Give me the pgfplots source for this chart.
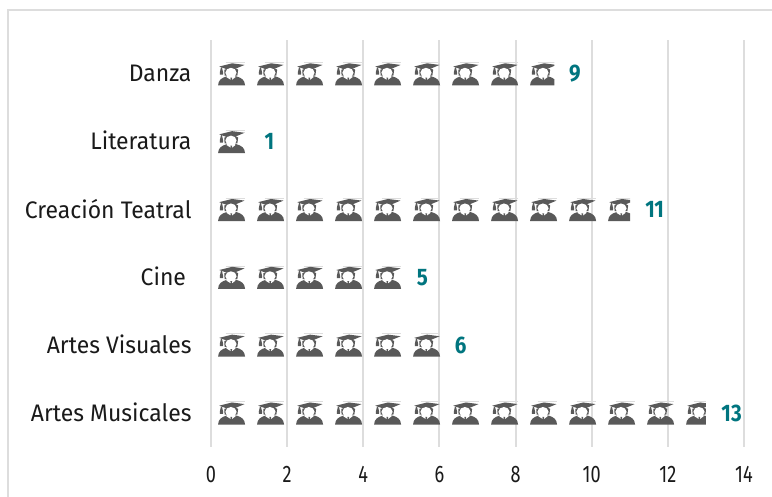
\documentclass[border=0pt]{standalone}
\usepackage{fontspec}
\setmainfont{Fira Sans}
\newfontfamily\lblfont[FakeStretch=0.96]{Fira Sans}
\newfontfamily\numfont[FakeStretch=0.76]{Fira Sans}
\newfontfamily\valfont[FakeStretch=0.86]{Fira Sans Bold}
\usepackage{pgfplots}
\pgfplotsset{compat=1.18}
\definecolor{gridc}{HTML}{DDDDDD}
\definecolor{iconc}{HTML}{595959}
\definecolor{tealc}{HTML}{00757F}
\definecolor{txt}{HTML}{1A1A1A}
% icon, centred, 1 unit = 1 image pixel
\newcommand\gradicon{%
 \begin{scope}[x=1bp,y=1bp,draw opacity=0]
 \path[draw=gridc,draw opacity=1,line width=.5bp] (-6,11.6) -- (13,11.6);
 \path[fill=iconc,draw=none] (-13.5,-11.5) .. controls (-13.2,-6) and (-10,-4) .. (-5,-2.5)
   -- (5,-2.5) .. controls (10,-4) and (13.2,-6) .. (13.5,-11.5) -- cycle;
 \path[fill=iconc,draw=none] (-12.3,7.4) -- (0.5,10.6) -- (13,9) -- (4,5.2) -- (-4,4.4) -- cycle;
 \path[fill=iconc,draw=none] (-10.6,6.5) -- (-9.6,6.5) -- (-8.4,1.2) -- (-8.6,-.8) -- (-11.6,-.8) -- (-11.8,1.2) -- cycle;
 \path[fill=iconc,draw=none] (-7.2,4.2) -- (-7,-1.6) -- (5.8,-1.6) -- (6.6,4.2) -- (4,5.6) -- (-4,5.2) -- cycle;
 \path[fill=white,draw=none] (-.6,1.2) ellipse (5.6 and 4.9);
 \path[fill=white,draw=none] (-5.2,-3.2) -- (-1,-5.8) -- (-.2,-4) -- (.6,-5.8) -- (4,-3.2) -- (2.4,-1.5) -- (-3.6,-1.5) -- cycle;
 \path[fill=iconc,draw=none] (-1.1,-3.8) -- (.5,-3.8) -- (.2,-8.5) -- (-.8,-8.5) -- cycle;
 \end{scope}
}
\pgfdeclareplotmark{grad}{\gradicon}
\pgfdeclareplotmark{gradA}{\begin{pgfscope}\pgfpathrectangle{\pgfpoint{-15bp}{-15bp}}{\pgfpoint{25.8bp}{30bp}}\pgfusepath{clip}\gradicon\end{pgfscope}}% cut at 9
\pgfdeclareplotmark{gradB}{\begin{pgfscope}\pgfpathrectangle{\pgfpoint{-15bp}{-15bp}}{\pgfpoint{23.6bp}{30bp}}\pgfusepath{clip}\gradicon\end{pgfscope}}% cut at 11
\pgfdeclareplotmark{gradC}{\begin{pgfscope}\pgfpathrectangle{\pgfpoint{-15bp}{-15bp}}{\pgfpoint{21.4bp}{30bp}}\pgfusepath{clip}\gradicon\end{pgfscope}}% cut at 13
\begin{document}
\begin{tikzpicture}[x=1bp,y=1bp]
\useasboundingbox (0,0) rectangle (772,497);
\fill[white] (0,0) rectangle (772,497);
\draw[gridc,line width=1.5bp] (8,0) -- (8,487) -- (772,487);
\begin{axis}[
  at={(211bp,50bp)},anchor=south west,
  scale only axis,width=533bp,height=407bp,
  xmin=0,xmax=14,ymin=-0.5,ymax=5.5,
  axis line style={draw=none},
  major tick length=0pt,
  xtick={0,2,...,14},
  ytick={0,1,2,3,4,5},
  yticklabels={Artes Musicales,Artes Visuales,Cine\kern5.5bp,Creación Teatral,Literatura,Danza},
  xmajorgrids,
  grid style={gridc,line width=2bp},
  /pgf/number format/assume math mode=true,
  yticklabel style={font=\fontsize{24}{26}\selectfont\lblfont,text=txt,xshift=-16bp,yshift=1bp},
  xticklabel style={font=\fontsize{24}{26}\selectfont\numfont,text=txt,yshift=-16bp},
  clip=false,
]
\addplot[xbar,bar width=20bp,draw=none,fill=none,
  nodes near coords,
  nodes near coords align={horizontal},
  every node near coord/.append style={font=\fontsize{24}{26}\selectfont\valfont,text=tealc,xshift=12bp}]
  coordinates {(13,0) (6,1) (5,2) (11,3) (1,4) (9,5)};
\addplot[only marks,mark=grad] coordinates {(0.54,0)(1.564,0)(2.589,0)(3.613,0)(4.638,0)(5.662,0)(6.686,0)(7.711,0)(8.735,0)(9.76,0)(10.784,0)(11.808,0)};
\addplot[only marks,mark=gradC] coordinates {(12.833,0)};
\addplot[only marks,mark=grad] coordinates {(0.54,1)(1.564,1)(2.589,1)(3.613,1)(4.638,1)(5.662,1)};
\addplot[only marks,mark=grad] coordinates {(0.54,2)(1.564,2)(2.589,2)(3.613,2)(4.638,2)};
\addplot[only marks,mark=grad] coordinates {(0.54,3)(1.564,3)(2.589,3)(3.613,3)(4.638,3)(5.662,3)(6.686,3)(7.711,3)(8.735,3)(9.76,3)};
\addplot[only marks,mark=gradB] coordinates {(10.784,3)};
\addplot[only marks,mark=grad] coordinates {(0.54,4)};
\addplot[only marks,mark=grad] coordinates {(0.54,5)(1.564,5)(2.589,5)(3.613,5)(4.638,5)(5.662,5)(6.686,5)(7.711,5)};
\addplot[only marks,mark=gradA] coordinates {(8.735,5)};
\end{axis}
\end{tikzpicture}
\end{document}
